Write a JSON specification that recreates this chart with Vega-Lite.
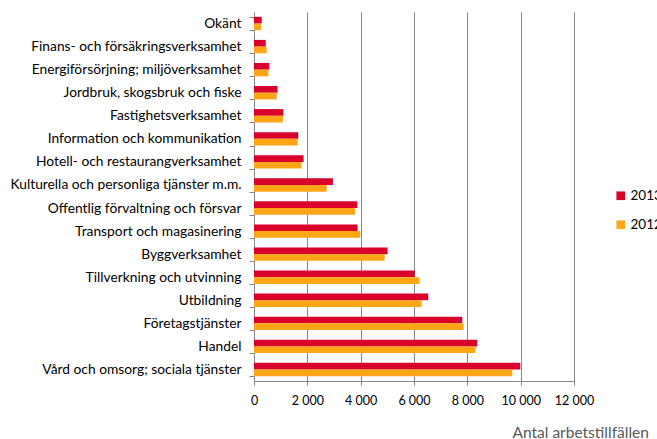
{
  "$schema": "https://vega.github.io/schema/vega-lite/v6.json",
  "autosize": "none",
  "width": 320,
  "height": 369,
  "padding": {"left": 254, "top": 12, "right": 83, "bottom": 58},
  "background": "white",
  "config": {
    "font": "Lato",
    "view": {"stroke": null},
    "axis": {"labelFont": "Lato", "titleFont": "Lato", "labelColor": "#000000"}
  },
  "data": {
    "values": [
      {"kategori": "Okänt", "år": "2013", "antal": 290},
      {"kategori": "Okänt", "år": "2012", "antal": 260},
      {"kategori": "Finans- och försäkringsverksamhet", "år": "2013", "antal": 440},
      {"kategori": "Finans- och försäkringsverksamhet", "år": "2012", "antal": 475},
      {"kategori": "Energiförsörjning; miljöverksamhet", "år": "2013", "antal": 575},
      {"kategori": "Energiförsörjning; miljöverksamhet", "år": "2012", "antal": 540},
      {"kategori": "Jordbruk, skogsbruk och fiske", "år": "2013", "antal": 885},
      {"kategori": "Jordbruk, skogsbruk och fiske", "år": "2012", "antal": 850},
      {"kategori": "Fastighetsverksamhet", "år": "2013", "antal": 1100},
      {"kategori": "Fastighetsverksamhet", "år": "2012", "antal": 1085},
      {"kategori": "Information och kommunikation", "år": "2013", "antal": 1660},
      {"kategori": "Information och kommunikation", "år": "2012", "antal": 1635},
      {"kategori": "Hotell- och restaurangverksamhet", "år": "2013", "antal": 1860},
      {"kategori": "Hotell- och restaurangverksamhet", "år": "2012", "antal": 1785},
      {"kategori": "Kulturella och personliga tjänster m.m.", "år": "2013", "antal": 2960},
      {"kategori": "Kulturella och personliga tjänster m.m.", "år": "2012", "antal": 2725},
      {"kategori": "Offentlig förvaltning och försvar", "år": "2013", "antal": 3875},
      {"kategori": "Offentlig förvaltning och försvar", "år": "2012", "antal": 3785},
      {"kategori": "Transport och magasinering", "år": "2013", "antal": 3885},
      {"kategori": "Transport och magasinering", "år": "2012", "antal": 3985},
      {"kategori": "Byggverksamhet", "år": "2013", "antal": 5010},
      {"kategori": "Byggverksamhet", "år": "2012", "antal": 4900},
      {"kategori": "Tillverkning och utvinning", "år": "2013", "antal": 6025},
      {"kategori": "Tillverkning och utvinning", "år": "2012", "antal": 6210},
      {"kategori": "Utbildning ", "år": "2013", "antal": 6535},
      {"kategori": "Utbildning ", "år": "2012", "antal": 6285},
      {"kategori": "Företagstjänster", "år": "2013", "antal": 7810},
      {"kategori": "Företagstjänster", "år": "2012", "antal": 7860},
      {"kategori": "Handel", "år": "2013", "antal": 8375},
      {"kategori": "Handel", "år": "2012", "antal": 8310},
      {"kategori": "Vård och omsorg; sociala tjänster", "år": "2013", "antal": 9985},
      {"kategori": "Vård och omsorg; sociala tjänster", "år": "2012", "antal": 9685}
    ]
  },
  "mark": {"type": "bar", "stroke": null},
  "encoding": {
    "y": {
      "field": "kategori",
      "type": "nominal",
      "sort": null,
      "scale": {"paddingInner": 0.42, "paddingOuter": 0.21},
      "axis": {
        "title": null,
        "tickBand": "extent",
        "tickSize": 5,
        "tickColor": "#868686",
        "domainColor": "#868686",
        "labelPadding": 8,
        "labelFontSize": 13.8,
        "labelLimit": 300
      }
    },
    "yOffset": {
      "field": "år",
      "type": "nominal",
      "sort": ["2013", "2012"],
      "scale": {"paddingInner": 0, "paddingOuter": 0}
    },
    "x": {
      "field": "antal",
      "type": "quantitative",
      "scale": {"domain": [0, 12000], "nice": false},
      "axis": {
        "values": [0, 2000, 4000, 6000, 8000, 10000, 12000],
        "labelExpr": "replace(format(datum.value, ','), ',', ' ')",
        "labelOverlap": false,
        "labelFlush": false,
        "grid": true,
        "gridColor": "#868686",
        "gridWidth": 1,
        "tickSize": 4,
        "tickColor": "#868686",
        "domainColor": "#868686",
        "labelPadding": 9,
        "labelFontSize": 12.5,
        "title": "Antal arbetstillfällen",
        "titleFontSize": 15.5,
        "titleFontWeight": "normal",
        "titleColor": "#595959",
        "titleAnchor": "start",
        "titleAlign": "left",
        "titleBaseline": "alphabetic",
        "titleX": 258,
        "titleY": 56
      }
    },
    "color": {
      "field": "år",
      "type": "nominal",
      "sort": ["2013", "2012"],
      "scale": {"domain": ["2013", "2012"], "range": ["#d9002b", "#ffa516"]},
      "legend": {
        "title": null,
        "orient": "none",
        "legendX": 360,
        "legendY": 177,
        "symbolType": "square",
        "symbolSize": 75,
        "symbolStrokeWidth": 0,
        "labelFontSize": 13.5,
        "labelColor": "#000000",
        "labelLimit": 200,
        "rowPadding": 14,
        "labelOffset": 3
      }
    }
  }
}
